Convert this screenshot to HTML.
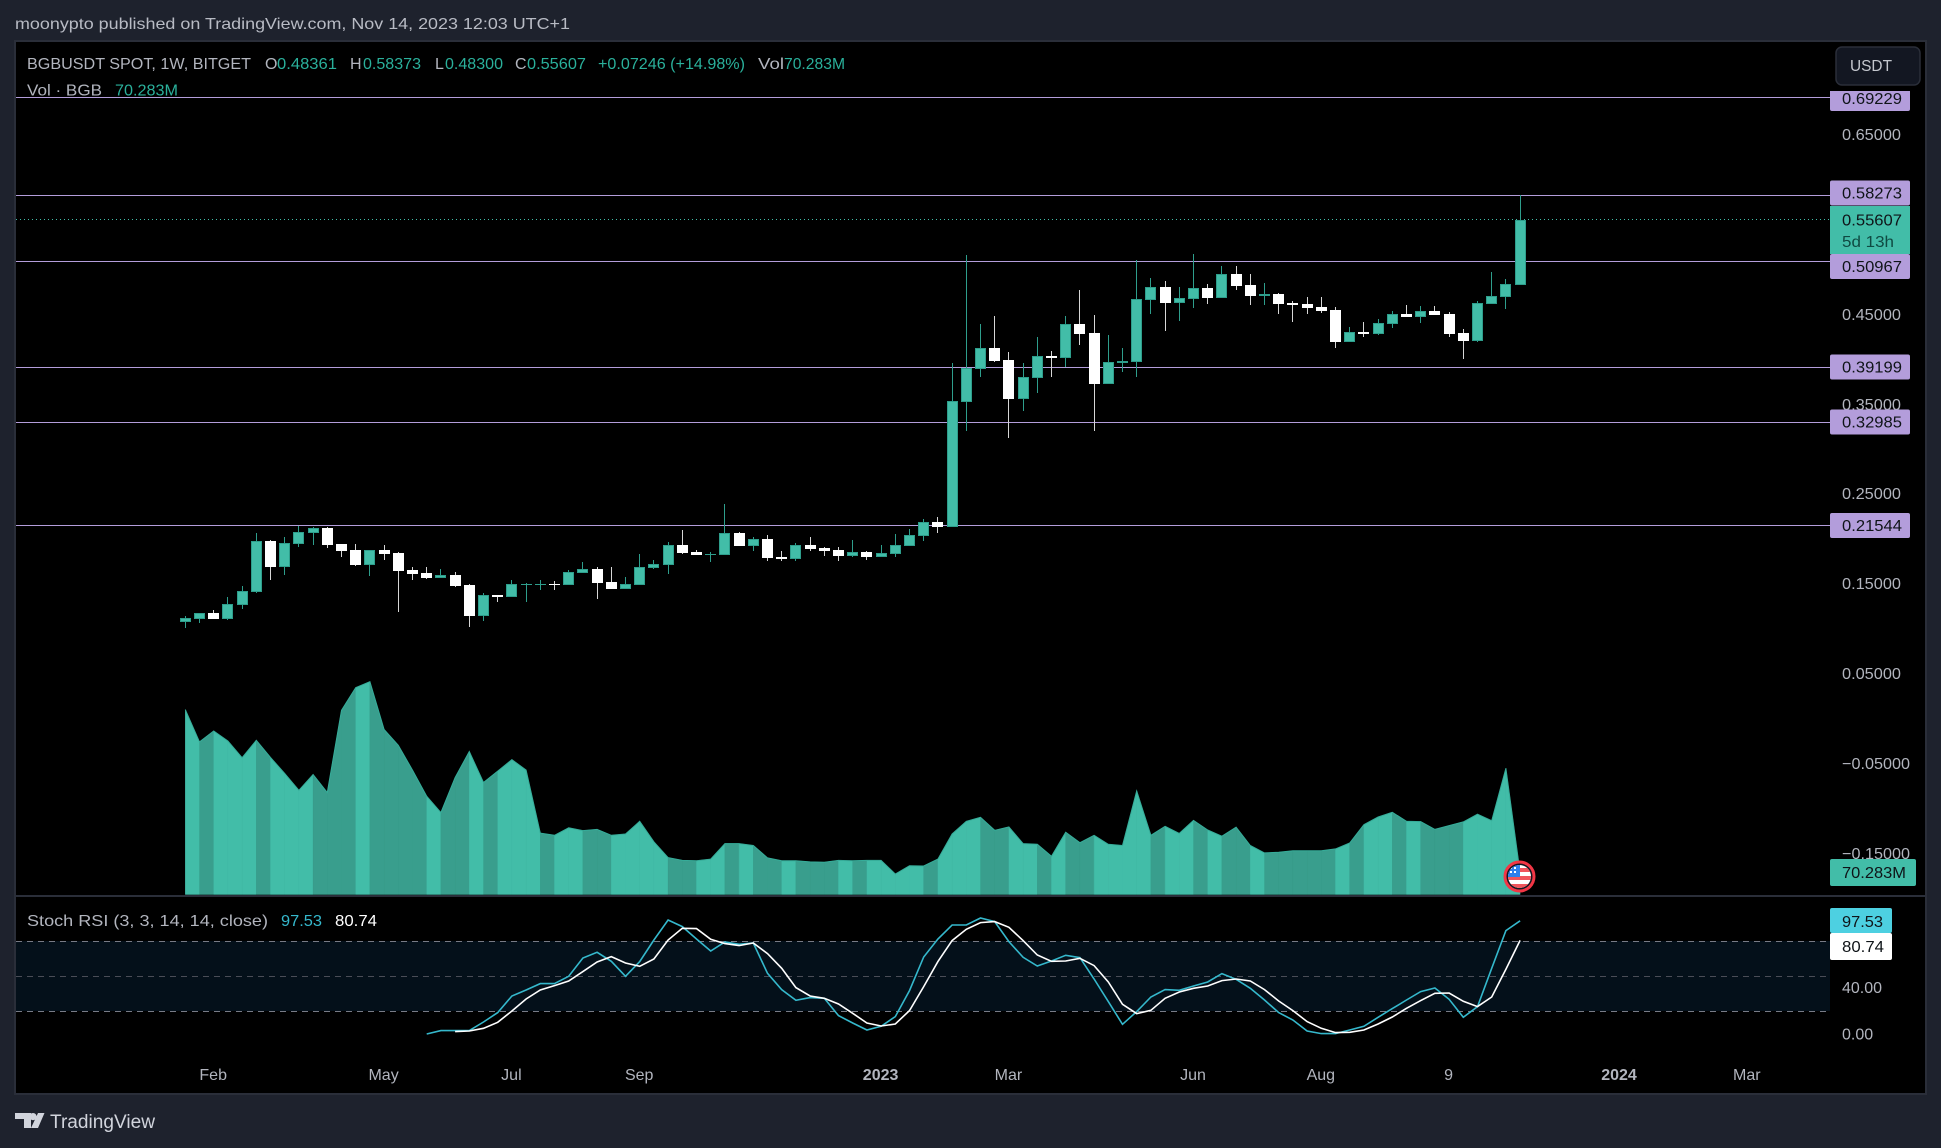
<!DOCTYPE html>
<html lang="en">
<head>
<meta charset="utf-8">
<title>BGBUSDT chart</title>
<style>
html,body{margin:0;padding:0;background:#1e222d;width:1941px;height:1148px;overflow:hidden}
svg{display:block;font-family:"Liberation Sans",sans-serif}
</style>
</head>
<body>
<svg id="chart" xmlns="http://www.w3.org/2000/svg" width="1941" height="1148" viewBox="0 0 1941 1148">
  <rect x="0" y="0" width="1941" height="1148" fill="#1e222d"/>
  <text x="15" y="29" font-size="16" fill="#b8bbc4" textLength="555" lengthAdjust="spacingAndGlyphs">moonypto published on TradingView.com, Nov 14, 2023 12:03 UTC+1</text>
  <rect x="15" y="41" width="1911" height="1053" fill="#000" stroke="#2a2e39" stroke-width="2"/>

  <g id="stoch-band-layer">
    <rect x="16" y="941" width="1814" height="70" fill="#04101a"/>
    <line x1="16" x2="1826" y1="941.5" y2="941.5" stroke="#787b86" stroke-width="1" stroke-dasharray="6 5"/>
    <line x1="16" x2="1826" y1="976.5" y2="976.5" stroke="#4a4d57" stroke-width="1" stroke-dasharray="6 5"/>
    <line x1="16" x2="1826" y1="1011.5" y2="1011.5" stroke="#787b86" stroke-width="1" stroke-dasharray="6 5"/>
  </g>

  <g id="level-lines" shape-rendering="crispEdges"></g>
  <line x1="16" x2="1830" y1="219.5" y2="219.5" stroke="#42bda8" stroke-width="1" stroke-dasharray="1 3"/>
  <g id="volume-layer"></g>
  <g id="candle-layer" shape-rendering="crispEdges"></g>
  <g id="stoch-layer"></g>

  <rect x="15" y="895" width="1911" height="2" fill="#2a2e39"/>

  <g font-size="16">
    <text x="27" y="69" fill="#b2b5be" textLength="224" lengthAdjust="spacingAndGlyphs">BGBUSDT SPOT, 1W, BITGET</text>
    <text x="265" y="69" fill="#b2b5be">O</text>
    <text x="277" y="69" fill="#2ab09b" textLength="60" lengthAdjust="spacingAndGlyphs">0.48361</text>
    <text x="350" y="69" fill="#b2b5be">H</text>
    <text x="363" y="69" fill="#2ab09b" textLength="58" lengthAdjust="spacingAndGlyphs">0.58373</text>
    <text x="435" y="69" fill="#b2b5be">L</text>
    <text x="445" y="69" fill="#2ab09b" textLength="58" lengthAdjust="spacingAndGlyphs">0.48300</text>
    <text x="515" y="69" fill="#b2b5be">C</text>
    <text x="527" y="69" fill="#2ab09b" textLength="59" lengthAdjust="spacingAndGlyphs">0.55607</text>
    <text x="598" y="69" fill="#2ab09b" textLength="147" lengthAdjust="spacingAndGlyphs">+0.07246 (+14.98%)</text>
    <text x="758" y="69" fill="#b2b5be" textLength="26" lengthAdjust="spacingAndGlyphs">Vol</text>
    <text x="784" y="69" fill="#2ab09b" textLength="61" lengthAdjust="spacingAndGlyphs">70.283M</text>
    <text x="27" y="95.5" fill="#b2b5be" textLength="75" lengthAdjust="spacingAndGlyphs">Vol · BGB</text>
    <text x="115" y="95.5" fill="#2ab09b" textLength="63" lengthAdjust="spacingAndGlyphs">70.283M</text>
    <text x="27" y="926" fill="#b2b5be" textLength="241" lengthAdjust="spacingAndGlyphs">Stoch RSI (3, 3, 14, 14, close)</text>
    <text x="281" y="926" fill="#35b8cc" textLength="41" lengthAdjust="spacingAndGlyphs">97.53</text>
    <text x="335" y="926" fill="#ffffff" textLength="42" lengthAdjust="spacingAndGlyphs">80.74</text>
  </g>

  <g id="price-axis" font-size="16"></g>
  <g id="time-axis" font-size="16"></g>
  <g id="level-labels" font-size="16" shape-rendering="auto"></g>

  <g>
    <rect x="1830" y="206" width="80" height="48" fill="#42bda8"/>
    <text x="1842" y="225.5" font-size="16" fill="#0f1418" textLength="60" lengthAdjust="spacingAndGlyphs">0.55607</text>
    <text x="1842" y="247" font-size="16" fill="#0f4a42" textLength="52" lengthAdjust="spacingAndGlyphs">5d 13h</text>
  </g>

  <rect x="1830" y="85" width="85" height="6" fill="#000"/>
  <g>
    <rect x="1836" y="47" width="84" height="38" rx="6" fill="#131722" stroke="#2a2e39" stroke-width="1.5"/>
    <text x="1850" y="71" font-size="16" fill="#c4c7ce" textLength="42" lengthAdjust="spacingAndGlyphs">USDT</text>
  </g>

  <g>
    <rect x="1830" y="859" width="86" height="27" rx="2" fill="#42bda8"/>
    <text x="1842" y="878" font-size="16" fill="#0f1418" textLength="64" lengthAdjust="spacingAndGlyphs">70.283M</text>
  </g>
  <g>
    <rect x="1830" y="908" width="62" height="25" rx="2" fill="#4dd0e1"/>
    <text x="1842" y="927" font-size="16" fill="#0f1418" textLength="41" lengthAdjust="spacingAndGlyphs">97.53</text>
    <rect x="1830" y="933" width="62" height="27" rx="2" fill="#ffffff"/>
    <text x="1842" y="952" font-size="16" fill="#0f1418" textLength="42" lengthAdjust="spacingAndGlyphs">80.74</text>
  </g>

  <g>
    <defs><clipPath id="flagClip"><circle cx="1519.5" cy="876.5" r="11.5"/></clipPath></defs>
    <circle cx="1519.5" cy="876.5" r="14.5" fill="#131722" stroke="#f23645" stroke-width="3"/>
    <g clip-path="url(#flagClip)">
      <rect x="1507" y="864" width="25" height="25" fill="#fff"/>
      <rect x="1507" y="868" width="25" height="4" fill="#f0545c"/>
      <rect x="1507" y="876" width="25" height="4" fill="#f0545c"/>
      <rect x="1507" y="884" width="25" height="5" fill="#f0545c"/>
      <rect x="1507" y="864" width="13" height="13" fill="#2f80ed"/>
      <rect x="1510" y="867" width="2" height="2" fill="#fff"/><rect x="1514" y="867" width="2" height="2" fill="#fff"/>
      <rect x="1510" y="871" width="2" height="2" fill="#fff"/><rect x="1514" y="871" width="2" height="2" fill="#fff"/>
    </g>
  </g>

  <g>
    <path d="M15 1113h16v15h-7v-9h-9z M33 1113a3.6 3.6 0 1 1 0 7.2a3.6 3.6 0 1 1 0-7.2z M38 1113h6.5l-6.5 15h-7z" fill="#d1d4dc"/>
    <text x="50" y="1128" font-size="19" fill="#d1d4dc" textLength="105" lengthAdjust="spacingAndGlyphs">TradingView</text>
  </g>
</svg>
<script>
// ---- Chart data ----
const opens = [.1093,.1126,.1189,.1126,.1282,.1426,.1989,.1704,.1959,.2082,.2133,.1956,.1889,.1726,.1889,.1856,.1667,.1633,.1581,.1611,.1500,.1159,.1389,.1370,.1500,.1500,.1511,.1504,.1637,.1678,.1533,.1459,.1504,.1693,.1726,.1944,.1867,.1833,.1837,.2078,.1937,.2011,.1811,.1793,.1944,.1911,.1889,.1826,.1867,.1815,.1848,.1937,.2048,.2200,.2148,.3537,.3904,.4133,.4000,.3570,.3804,.4044,.4026,.4400,.4300,.3737,.3967,.3981,.4670,.4811,.4637,.4681,.4800,.4693,.4956,.4833,.4711,.4733,.4633,.4622,.4589,.4556,.4204,.4311,.4293,.4404,.4511,.4481,.4544,.4511,.4300,.4211,.4626,.4704,.48361];
const highs = [.1156,.1185,.1219,.1367,.1485,.2078,.1996,.2033,.2156,.2144,.2144,.1956,.1956,.1889,.1944,.1867,.1700,.1700,.1678,.1644,.1511,.1411,.1389,.1556,.1522,.1556,.1544,.1667,.1756,.1700,.1700,.1589,.1844,.1778,.1978,.2111,.1889,.1867,.2400,.2089,.2033,.2056,.1878,.1967,.2033,.1922,.1922,.2000,.1878,.1944,.2067,.2122,.2233,.2256,.3967,.5167,.4400,.4489,.4089,.3967,.4256,.4100,.4489,.4778,.4500,.4278,.4133,.5111,.4911,.4878,.4811,.5178,.4844,.5044,.5044,.4956,.4856,.4744,.4656,.4700,.4700,.4589,.4367,.4422,.4456,.4544,.4611,.4600,.4600,.4533,.4344,.4656,.4978,.4900,.58373];
const lows = [.1022,.1078,.1126,.1111,.1233,.1411,.1556,.1611,.1922,.1944,.1911,.1811,.1711,.1600,.1778,.1200,.1556,.1567,.1578,.1478,.1033,.1100,.1311,.1367,.1311,.1444,.1444,.1500,.1633,.1344,.1456,.1456,.1496,.1678,.1622,.1844,.1833,.1756,.1833,.1933,.1878,.1767,.1767,.1767,.1878,.1822,.1767,.1811,.1778,.1811,.1811,.1933,.1989,.2078,.2148,.3211,.3811,.3978,.3133,.3433,.3633,.3811,.3919,.4167,.3211,.3733,.3867,.3811,.4511,.4322,.4433,.4578,.4622,.4689,.4778,.4611,.4611,.4511,.4422,.4511,.4522,.4133,.4200,.4256,.4278,.4356,.4478,.4411,.4500,.4256,.4011,.4200,.4622,.4567,.48300];
const closes = [.1130,.1185,.1126,.1285,.1430,.1985,.1700,.1963,.2085,.2130,.1944,.1878,.1722,.1885,.1844,.1656,.1622,.1578,.1607,.1489,.1156,.1385,.1367,.1507,.1511,.1511,.1500,.1641,.1674,.1522,.1456,.1507,.1696,.1730,.1941,.1856,.1833,.1844,.2074,.1933,.2007,.1800,.1789,.1941,.1900,.1878,.1822,.1863,.1811,.1852,.1941,.2052,.2196,.2144,.3541,.3907,.4130,.3989,.3567,.3807,.4041,.4022,.4396,.4289,.3733,.3974,.3989,.4674,.4807,.4633,.4685,.4796,.4689,.4952,.4822,.4711,.4733,.4622,.4611,.4578,.4544,.4200,.4307,.4289,.4407,.4507,.4478,.4541,.4500,.4289,.4211,.4630,.4707,.4841,.55607];
const volumes = [596,492,527,495,441,497,442,390,336,387,329,594,667,686,532,481,401,317,264,377,461,361,398,435,401,198,191,215,206,210,191,195,236,170,119,110,109,114,164,164,158,118,109,109,105,104,110,109,110,110,66,93,92,114,195,236,249,207,218,164,162,123,201,167,191,162,158,334,191,220,197,239,208,188,217,158,134,136,141,141,141,147,166,225,250,265,236,235,210,222,234,259,238,407,70.283];
const stochKStart = 17;
const stochK = [0.57,3.43,3.43,3.43,10.86,18.86,33.14,38.29,43.71,43.71,50,65.71,70.57,62.86,50,62.57,81.14,98.29,92.57,82,71.71,79.43,77.43,78.57,52.57,38.57,29.43,31.71,31.14,16.29,10,4,7.14,15.43,37.71,66.57,82,94,94,100,96.86,79.71,66.29,58.86,63.14,68,66,47.71,28.29,8.86,19.71,32.29,38.57,38,41.71,45.14,52.29,47.43,39.71,29.71,18.86,12.57,3.14,0.86,0.86,4,7.14,14.86,22.29,29.71,36.86,40,30.29,14.86,24,56.86,89.14,97.53];
const stochDStart = 19;
const stochD = [2.57,3.14,5.43,10.57,20.29,30.57,38.29,42,46,54,62.29,66.86,61.43,58.57,64.86,81.14,91.14,90.86,81.71,78,76.29,78.57,69.43,56.86,40.29,33.14,31.14,26.29,18.29,10,7.43,9.14,20.57,41.14,62.57,80.57,90.29,96,96.86,92,80.57,68.29,62.86,63.14,65.43,59.14,45.14,26,18,20.86,31.14,36.57,39.71,41.71,46.29,47.71,46,38.57,28.86,20.57,11.14,5.43,1.71,2,4,9.14,15.14,22.57,29.14,35.43,35.71,28.57,24,32.29,56,80.74];
const levels = [0.69229,0.58273,0.50967,0.39199,0.32985,0.21544];
const levelLabels = ["0.69229","0.58273","0.50967","0.39199","0.32985","0.21544"];
const priceTicks = [0.65,0.45,0.35,0.25,0.15,0.05,-0.05,-0.15];
const priceTickLabels = ["0.65000","0.45000","0.35000","0.25000","0.15000","0.05000","\u22120.05000","\u22120.15000"];
const stochTicks = [40,0];
const stochTickLabels = ["40.00","0.00"];
const timeBars = [2,14,23,32,49,58,71,80,89,101,110];
const timeLabels = ["Feb","May","Jul","Sep","2023","Mar","Jun","Aug","9","2024","Mar"];

// ---- Axis functions ----
function xBar(i){return 185.3+14.2*i;}
function yPrice(p){return 135+(0.65-p)*900;}
function yLevel(p){return Math.round(135+(0.65-p)*897.5);}
function yVol(v){return 894.5-v/3.224;}
function yStoch(v){return 1011.3+(20-v)*35/30;}

const NS='http://www.w3.org/2000/svg';
function mk(tag,attrs,parent){
  const el=document.createElementNS(NS,tag);
  for(const k in attrs){el.setAttribute(k,attrs[k]);}
  parent.appendChild(el);
  return el;
}

// Horizontal levels
const levelLayer=document.getElementById('level-lines');
levels.forEach(function(l){
  const el=mk('rect',{x:16,y:yLevel(l),width:1814,height:1,fill:'#b39ddb'},levelLayer);
  
  
});

// Volume area: each segment is coloured by the candle that ends it
const volLayer=document.getElementById('volume-layer');
for(let i=1;i<volumes.length;i++){
  const dn=closes[i]<opens[i];
  const c=dn?'#399e8d':'#42bda8';
  const pts=[[xBar(i-1),894.5],[xBar(i-1),yVol(volumes[i-1])],[xBar(i),yVol(volumes[i])],[xBar(i),894.5]].map(function(p){return p[0].toFixed(1)+','+p[1].toFixed(1);}).join(' ');
  const seg=mk('polygon',{points:pts,fill:c,stroke:c,'stroke-width':0.4},volLayer);
  
  
}
const volTop=mk('polyline',{points:volumes.map(function(v,i){return xBar(i).toFixed(1)+','+yVol(v).toFixed(1);}).join(' '),fill:'none',stroke:'#36ac99','stroke-width':1},volLayer);



// Candles
const candleLayer=document.getElementById('candle-layer');
opens.forEach(function(o,i){
  const c=closes[i],dn=c<o;
  const g=mk('g',{},candleLayer);
  
  
  const xc=Math.floor(xBar(i));
  const yH=Math.round(yPrice(highs[i])),yL=Math.round(yPrice(lows[i]));
  mk('rect',{x:xc,y:yH,width:1,height:Math.max(yL-yH,1),fill:dn?'#d6d6d6':'#2e9e8c'},g);
  const yT=Math.round(yPrice(Math.max(o,c))),yB=Math.round(yPrice(Math.min(o,c)));
  const h=Math.max(yB-yT,1);
  mk('rect',{x:xc-5,y:yT,width:11,height:h,fill:dn?'#ffffff':'#2e9e8c'},g);
  if(!dn&&h>2){mk('rect',{x:xc-4,y:yT+1,width:9,height:h-2,fill:'#42bda8'},g);}
});

// Stoch RSI
const stochLayer=document.getElementById('stoch-layer');
const kLine=mk('polyline',{points:stochK.map(function(v,i){return xBar(i+stochKStart).toFixed(1)+','+yStoch(v).toFixed(1);}).join(' '),fill:'none',stroke:'#35b8cc','stroke-width':1.6},stochLayer);


const dLine=mk('polyline',{points:stochD.map(function(v,i){return xBar(i+stochDStart).toFixed(1)+','+yStoch(v).toFixed(1);}).join(' '),fill:'none',stroke:'#ffffff','stroke-width':1.6},stochLayer);



// Price axis
const priceAxis=document.getElementById('price-axis');
priceTicks.forEach(function(p,i){
  const lbl=priceTickLabels[i];
  const neg=lbl.charAt(0)==='\u2212';
  const t=mk('text',{x:1842,y:yPrice(p)+5-(p<0.3?1:0),fill:'#b2b5be',textLength:neg?68:59,lengthAdjust:'spacingAndGlyphs'},priceAxis);
  
  
  t.textContent=lbl;
});
stochTicks.forEach(function(v,i){
  const t=mk('text',{x:1842,y:yStoch(v)+5,fill:'#b2b5be'},priceAxis);
  
  
  t.textContent=stochTickLabels[i];
});

// Time axis
const timeAxis=document.getElementById('time-axis');
timeBars.forEach(function(b,i){
  const lbl=timeLabels[i];
  const bold=lbl.length===4;
  const t=mk('text',{x:xBar(b)-0.5,y:1080,fill:'#b2b5be','text-anchor':'middle','font-weight':bold?'bold':'normal'},timeAxis);
  
  
  t.textContent=lbl;
});

// Level price tags (nudged apart where the tags would collide)
const levelLabelLayer=document.getElementById('level-labels');
const tagNudge=[1.5,-2,5.5,0,0,0.5];
levels.forEach(function(l,i){
  const cy=yLevel(l)+tagNudge[i];
  const r=mk('rect',{x:1830,y:(cy-12.5).toFixed(1),width:80,height:25,rx:2,fill:'#b39ddb'},levelLabelLayer);
  
  
  const t=mk('text',{x:1842,y:(cy+5.5).toFixed(1),fill:'#0f1418',textLength:60,lengthAdjust:'spacingAndGlyphs'},levelLabelLayer);
  
  
  t.textContent=levelLabels[i];
});
</script>
</body>
</html>
